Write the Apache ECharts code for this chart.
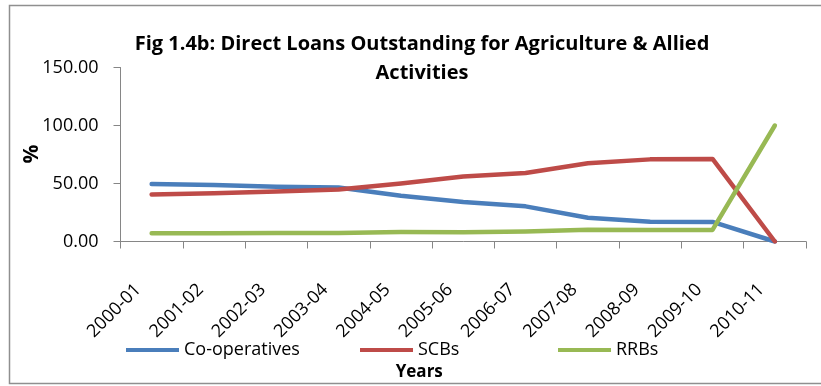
<!DOCTYPE html>
<html>
<head>
<meta charset="utf-8">
<title>Direct Loans Outstanding for Agriculture & Allied Activities</title>
<script src="https://cdn.jsdelivr.net/npm/echarts@6/dist/echarts.min.js"></script>
<style>
  html, body { margin: 0; padding: 0; background: #ffffff; }
  #chart { width: 821px; height: 386px; }
</style>
</head>
<body>
<div id="chart"></div>
<script>
// Financial years on the category axis
const years = ['2000-01', '2001-02', '2002-03', '2003-04', '2004-05', '2005-06',
               '2006-07', '2007-08', '2008-09', '2009-10', '2010-11'];

// Share of direct agricultural loans outstanding, in %
const coOperatives = [49.6, 48.6, 47.2, 46.5, 39.5, 34.0, 30.3, 20.5, 17.0, 16.9, 0];
const scbs         = [40.6, 41.7, 43.1, 44.8, 50.0, 56.0, 59.0, 67.4, 70.8, 71.2, 0];
const rrbs         = [7.2, 7.1, 7.4, 7.3, 8.1, 7.9, 8.7, 10.2, 10.0, 10.0, 100];

const yTicks = [0, 50, 100, 150];

const FONT = '"Open Sans", "Noto Sans", sans-serif';
const AXIS_GREY = '#868686';

const seriesDefs = [
  { name: 'Co-operatives', data: coOperatives, color: '#4A7EBB' },
  { name: 'SCBs',          data: scbs,         color: '#BE4B48' },
  { name: 'RRBs',          data: rrbs,         color: '#98B954' }
];

// One legend block per series so each entry sits at its own spot
const legendLefts = [121, 355, 553];

const chart = echarts.init(document.getElementById('chart'), null, { renderer: 'canvas' });

chart.setOption({
  animation: false,
  backgroundColor: '#ffffff',
  title: {
    text: 'Fig 1.4b: Direct Loans Outstanding for Agriculture & Allied\nActivities',
    left: 417,
    top: 25,
    textAlign: 'center',
    textStyle: {
      fontFamily: FONT,
      fontWeight: 'bold',
      fontSize: 20,
      lineHeight: 29,
      color: '#000000'
    }
  },
  graphic: [
    {
      // chart frame
      type: 'rect',
      silent: true,
      shape: { x: 9.5, y: 5.5, width: 840, height: 378 },
      style: { fill: 'none', stroke: '#8f8f8f', lineWidth: 1.5 }
    },
    {
      // value-axis unit, set vertically beside the axis labels
      type: 'text',
      silent: true,
      x: 32,
      y: 154,
      rotation: Math.PI / 2,
      style: {
        text: '%',
        fontFamily: FONT,
        fontWeight: 'bold',
        fontSize: 21,
        fill: '#000000',
        align: 'center',
        verticalAlign: 'middle'
      }
    }
  ],
  legend: seriesDefs.map((s, i) => ({
    data: [s.name],
    left: legendLefts[i],
    top: 336,
    orient: 'horizontal',
    icon: 'rect',
    itemWidth: 53,
    itemHeight: 4,
    itemGap: 0,
    selectedMode: false,
    textStyle: { fontFamily: FONT, fontSize: 18, color: '#000000' }
  })),
  grid: {
    left: 120.5,
    right: 15,
    top: 67.5,
    bottom: 144.5,
    containLabel: false
  },
  xAxis: {
    type: 'category',
    data: years,
    boundaryGap: true,
    name: 'Years',
    nameLocation: 'middle',
    nameGap: 122,
    nameTextStyle: {
      fontFamily: FONT,
      fontWeight: 'bold',
      fontSize: 17,
      color: '#000000',
      padding: [0, 88, 0, 0]
    },
    axisLine: { lineStyle: { color: AXIS_GREY, width: 1 } },
    axisTick: { show: true, length: 7, alignWithLabel: false, lineStyle: { color: AXIS_GREY } },
    axisLabel: {
      rotate: 45,
      margin: 32,
      interval: 0,
      padding: [0, 19, 0, 0],
      fontFamily: FONT,
      fontSize: 18,
      color: '#000000'
    },
    splitLine: { show: false }
  },
  yAxis: {
    type: 'value',
    min: yTicks[0],
    max: yTicks[yTicks.length - 1],
    interval: yTicks[1] - yTicks[0],
    axisLine: { show: true, lineStyle: { color: AXIS_GREY, width: 1 } },
    axisTick: { show: true, length: 7, lineStyle: { color: AXIS_GREY } },
    axisLabel: {
      margin: 22,
      fontFamily: FONT,
      fontSize: 18,
      color: '#000000',
      formatter: v => v.toFixed(2)
    },
    splitLine: { show: false }
  },
  series: seriesDefs.map(s => ({
    name: s.name,
    type: 'line',
    data: s.data,
    color: s.color,
    showSymbol: false,
    symbol: 'none',
    smooth: false,
    lineStyle: { width: 4.5, color: s.color, cap: 'round', join: 'round' },
    itemStyle: { color: s.color }
  }))
});
</script>
</body>
</html>
